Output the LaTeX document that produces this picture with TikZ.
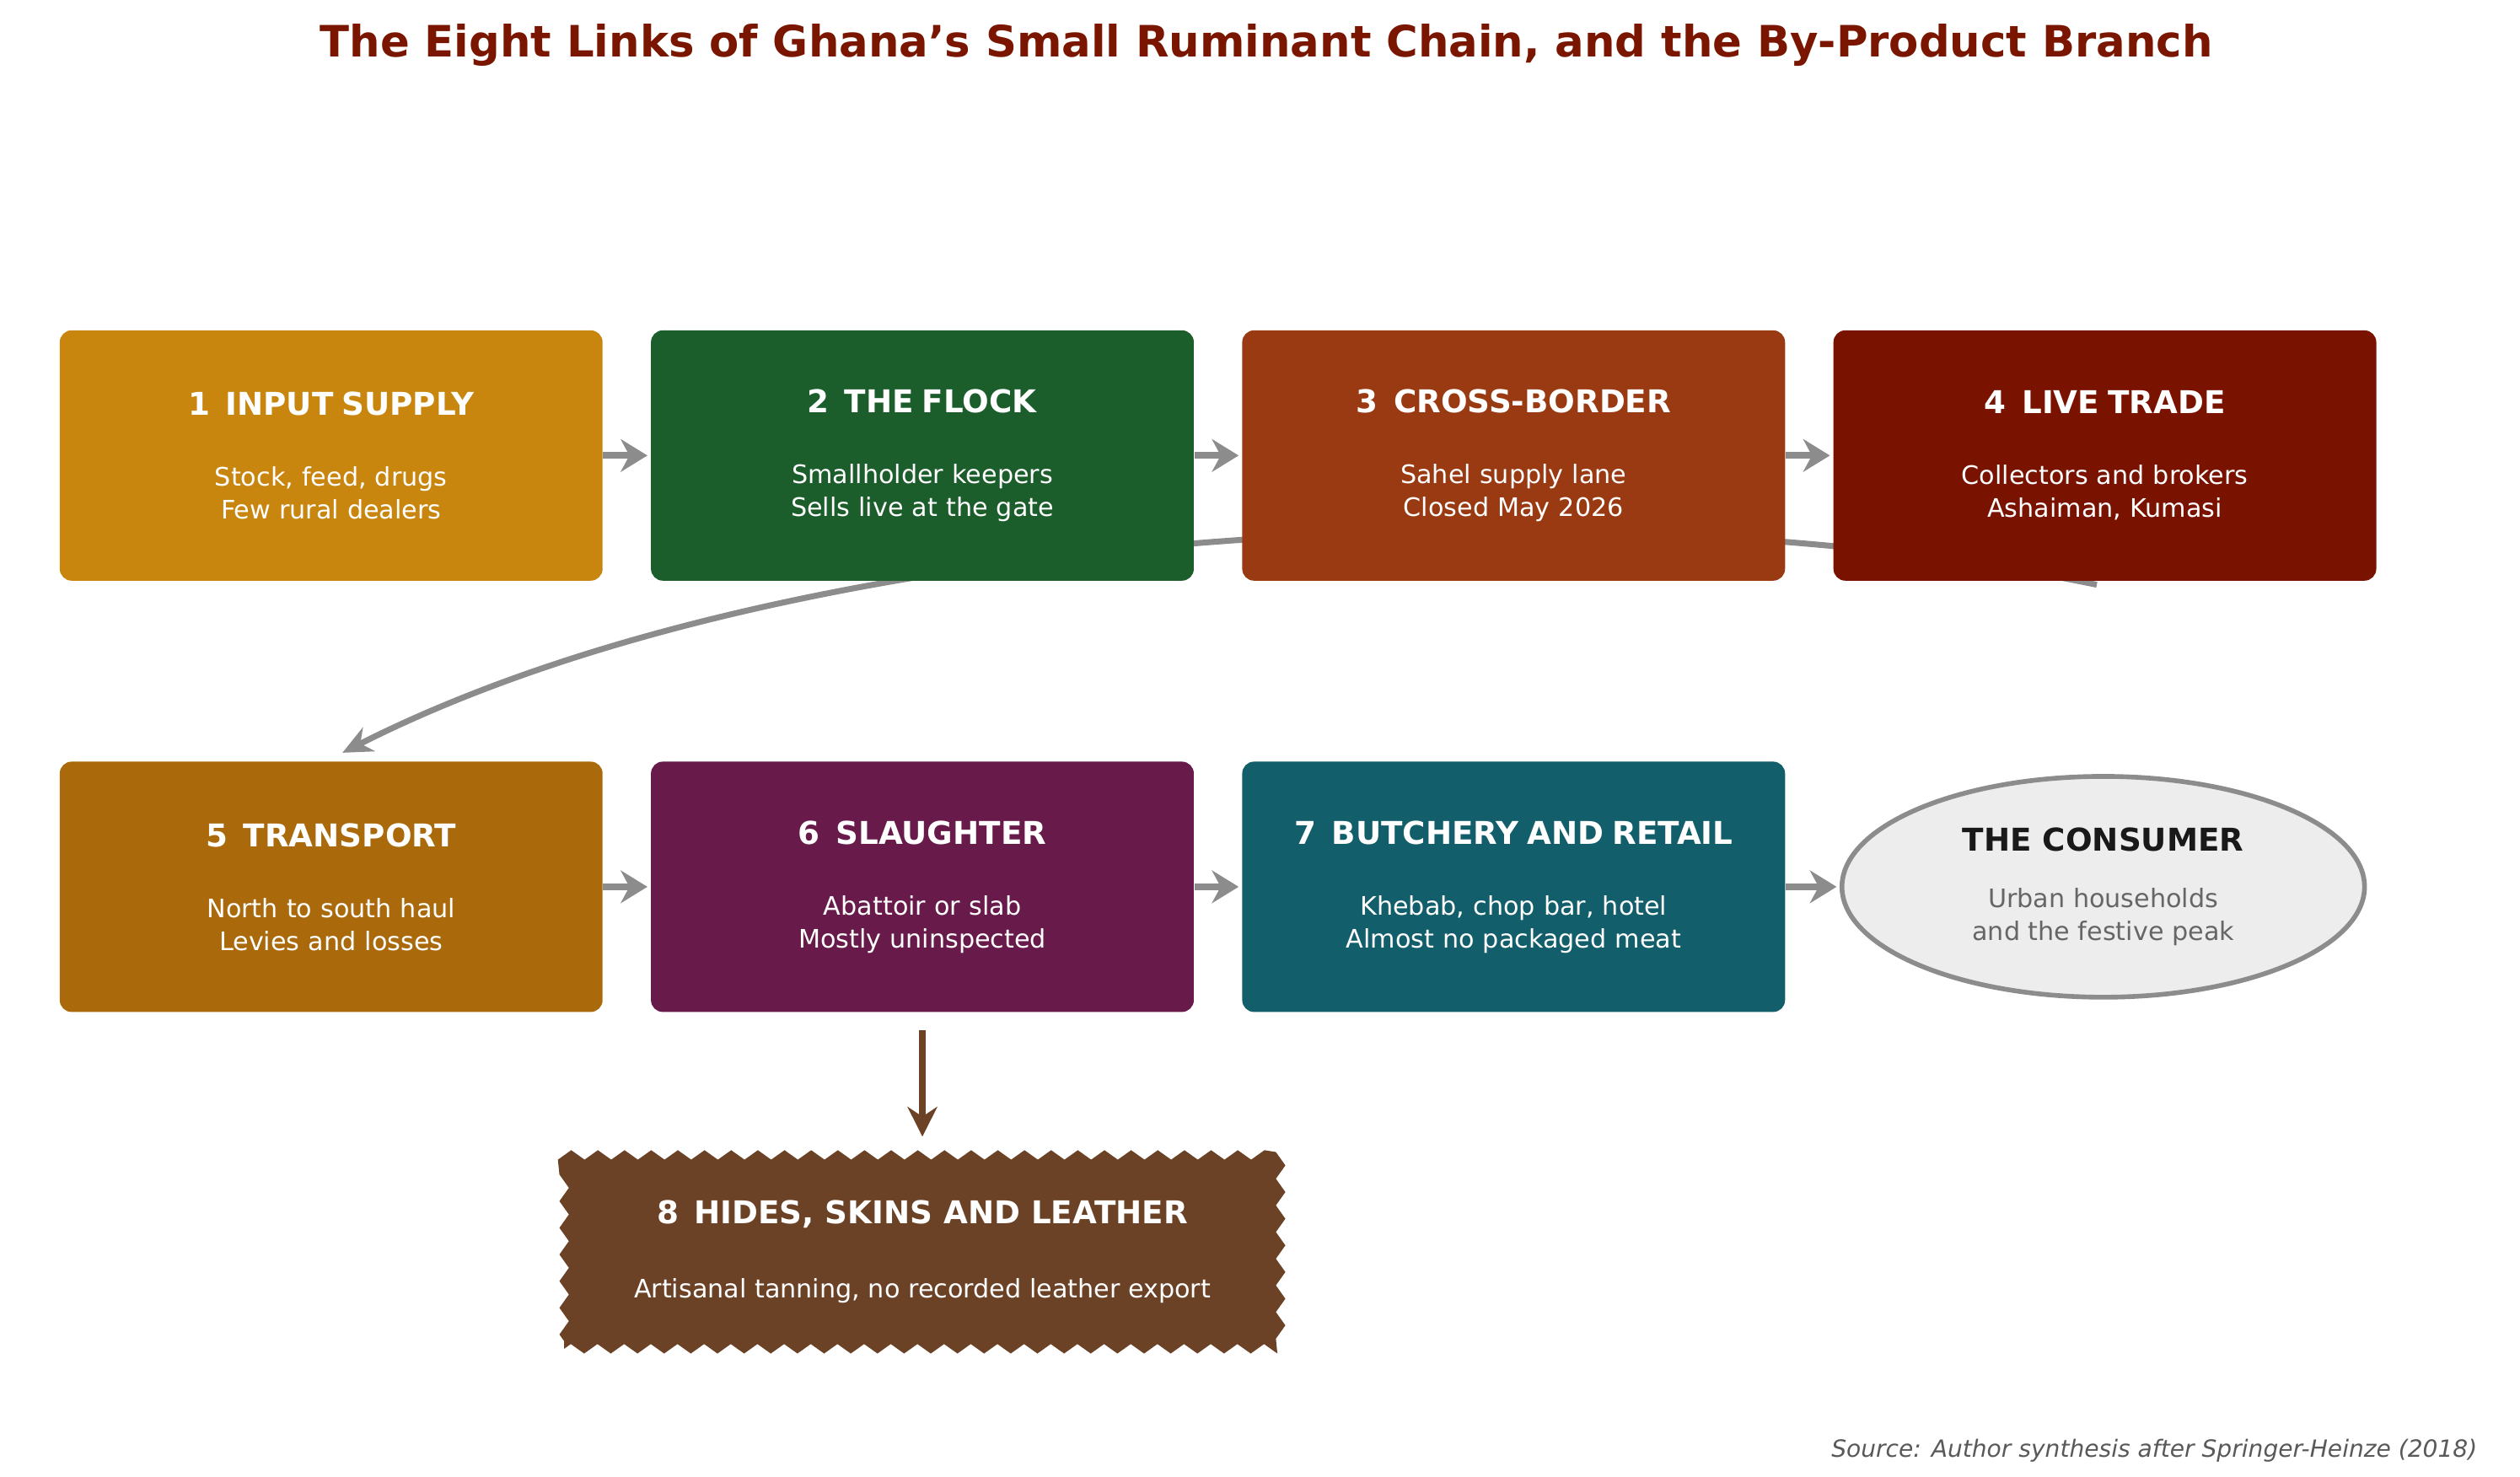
\documentclass[tikz,border=0pt]{standalone}
\usepackage{fontspec}
\setmainfont{DejaVu Sans}
\usetikzlibrary{arrows.meta,positioning,decorations.pathmorphing,shapes.geometric}
\definecolor{cInput}{HTML}{C8860E}
\definecolor{cFlock}{HTML}{1B5E2B}
\definecolor{cBorder}{HTML}{9A3A12}
\definecolor{cTrade}{HTML}{7A1200}
\definecolor{cTrans}{HTML}{AA6A0C}
\definecolor{cSlaugh}{HTML}{681A4A}
\definecolor{cRetail}{HTML}{125E6A}
\definecolor{cHide}{HTML}{6B4226}
\definecolor{cTitle}{HTML}{7A1500}
\definecolor{cFlow}{HTML}{8C8C8C}
\newcommand{\linkbox}[1]{\textbf{\fontsize{10.6}{13}\selectfont #1}}
\begin{document}
\begin{tikzpicture}[
    x=0.01916cm, y=-0.01916cm,
    >=Stealth, line join=round,
    link/.style={rounded corners=4pt, text width=6.2cm, minimum width=6.44cm, minimum height=2.97cm,
      align=center, text=white, inner sep=0pt, font=\fontsize{8.6}{11}\selectfont},
    flow/.style={draw=cFlow, line width=2.2pt, -{Stealth[length=9pt,width=11pt]}}
  ]
  \useasboundingbox (0,0) rectangle (1560,914);
  % ---- title ----
  \node[font=\bfseries\fontsize{14.6}{17}\selectfont, text=cTitle] (title) at (784,28) {The Eight Links of Ghana's Small Ruminant Chain, and the By-Product Branch};

  % ---- long return connector (behind the boxes) ----
  \coordinate (r4) at (1298,362);
  \coordinate (r5) at (212,466);
  \draw[draw=cFlow, line width=2pt, -{Stealth[length=10pt,width=9pt]}]
    (r4) .. controls (1000,300) and (500,320) .. (r5);

  % ---- row 1 ----
  \node[link, fill=cInput]  (input)  at (205,282) {\linkbox{1\enspace INPUT SUPPLY}\\[13pt]Stock, feed, drugs\\Few rural dealers};
  \node[link, fill=cFlock]  (flock)  at (571,282) {\linkbox{2\enspace THE FLOCK}\\[13pt]Smallholder keepers\\Sells live at the gate};
  \node[link, fill=cBorder] (border) at (937,282) {\linkbox{3\enspace CROSS-BORDER}\\[13pt]Sahel supply lane\\Closed May 2026};
  \node[link, fill=cTrade]  (trade)  at (1303,282) {\linkbox{4\enspace LIVE TRADE}\\[13pt]Collectors and brokers\\Ashaiman, Kumasi};

  % ---- row 2 ----
  \node[link, fill=cTrans]  (trans)  at (205,549) {\linkbox{5\enspace TRANSPORT}\\[13pt]North to south haul\\Levies and losses};
  \node[link, fill=cSlaugh] (slaugh) at (571,549) {\linkbox{6\enspace SLAUGHTER}\\[13pt]Abattoir or slab\\Mostly uninspected};
  \node[link, fill=cRetail] (retail) at (937,549) {\linkbox{7\enspace BUTCHERY AND RETAIL}\\[13pt]Khebab, chop bar, hotel\\Almost no packaged meat};
  \node[ellipse, draw=cFlow, line width=1.6pt, fill=black!7, minimum width=6.2cm, minimum height=2.62cm,
    align=center, inner sep=0pt, text=black!60, font=\fontsize{8.6}{11}\selectfont] (consumer) at (1302,549)
    {\textcolor{black!90}{\linkbox{THE CONSUMER}}\\[8pt]Urban households\\and the festive peak};

  % ---- by-product ----
  \node[fill=cHide, decorate, decoration={zigzag, segment length=9pt, amplitude=1.6pt},
    minimum width=8.5cm, minimum height=2.3cm, align=center, text=white, inner sep=0pt,
    font=\fontsize{8.6}{11}\selectfont] (hides) at (571,775)
    {\linkbox{8\enspace HIDES, SKINS AND LEATHER}\\[14pt]Artisanal tanning, no recorded leather export};

  % ---- connectors ----
  \foreach \a/\b in {input/flock, flock/border, border/trade, trans/slaugh, slaugh/retail, retail/consumer}
    \draw[flow, shorten >=1pt] (\a.east) -- (\b.west);
  \draw[draw=cHide, line width=2.4pt, -{Stealth[length=10pt,width=10pt]}] ([yshift=-6pt]slaugh.south) -- ([yshift=6pt]hides.north);

  % ---- source ----
  \node[anchor=east, font=\itshape\fontsize{8}{10}\selectfont, text=black!65] (source) at (1540,898) {Source: Author synthesis after Springer-Heinze (2018)};
\end{tikzpicture}
\end{document}
